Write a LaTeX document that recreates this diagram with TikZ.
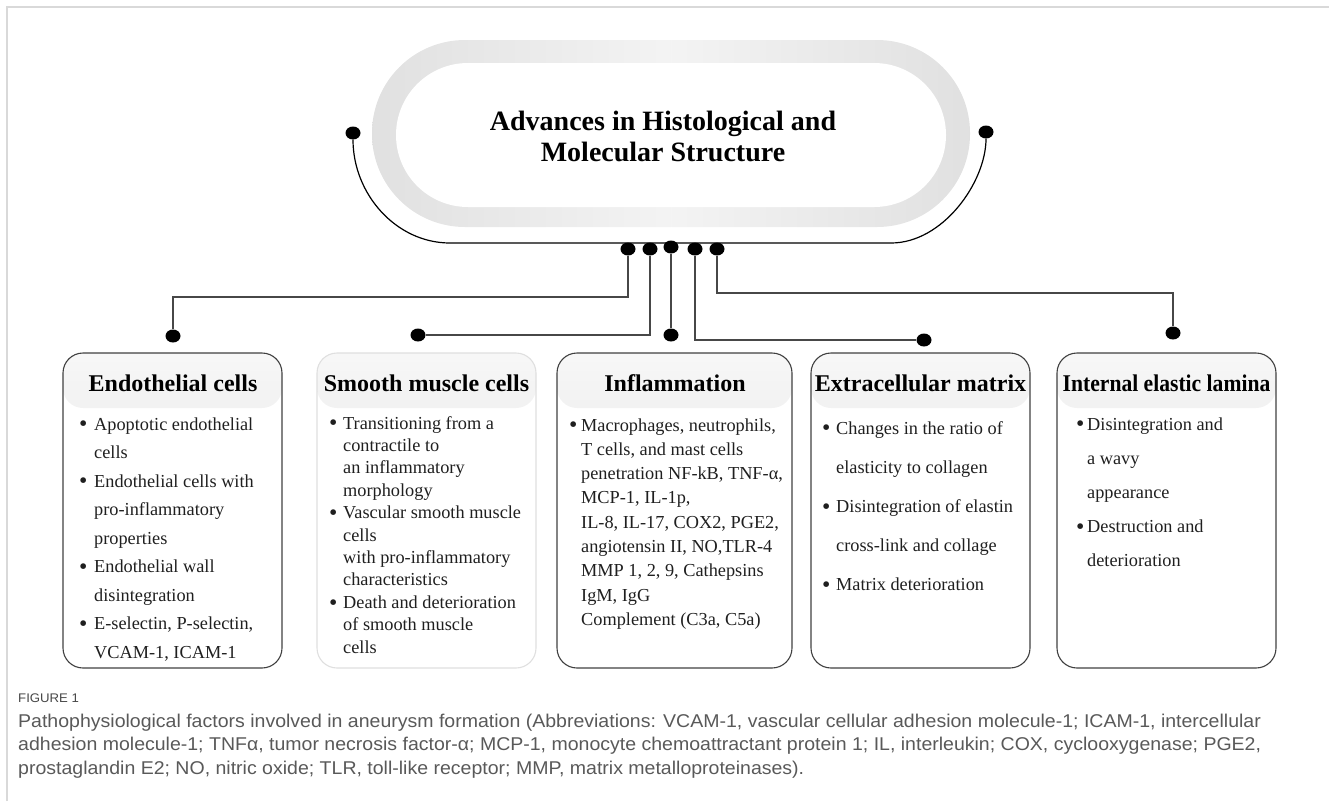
\documentclass[tikz,border=0pt]{standalone}
\usepackage{fontspec}
\setmainfont{Liberation Serif}
\newfontfamily\capfont[FakeStretch=1.055]{Liberation Sans}
\usetikzlibrary{shapes.geometric}
\newlength\bw
\newcommand\bitem{\makebox[\bw][l]{\raisebox{-1.9pt}{\scalebox{1.3}{\textbullet}}}}
\newcommand\bcont{\hspace*{\bw}}
\begin{document}
\begin{tikzpicture}[x=1pt,y=-1pt,
  framel/.style={draw=gray!30, line width=1.6pt},
  dotn/.style={ellipse, fill=black, inner sep=0pt, minimum width=15pt, minimum height=13pt},
  conn/.style={draw=black!72, line width=1.3pt},
  arcline/.style={draw=black, line width=1.2pt},
  boxn/.style={draw=black!75, line width=1.1pt, rounded corners=20pt, minimum height=315pt, inner sep=0pt,
    path picture={\shade[top color=gray!6, bottom color=gray!32] (path picture bounding box.north west) rectangle ([yshift=-55pt]path picture bounding box.north east);}},
  head/.style={anchor=base, inner sep=0pt, font=\fontsize{24}{28}\selectfont\bfseries},
  body/.style={anchor=base west, inner sep=0pt, text=black!88},
]
\useasboundingbox (0,0) rectangle (1329,801);
% frame
\draw[framel] (7,801) -- (7,7) -- (1329,7);

% hub
\node[minimum width=598pt, minimum height=187pt, rounded corners=93pt, inner sep=0pt,
  left color=gray!24, right color=gray!24, middle color=gray!9] (hub) at (671,133.5) {};
\node[fill=white, minimum width=550pt, minimum height=144pt, rounded corners=72pt, inner sep=0pt] (hubin) at (671,135) {};
\node[anchor=base, inner sep=0pt, font=\fontsize{28}{31}\selectfont\bfseries] (title) at (663,130)
  {\begin{tabular}[t]{@{}c@{}}Advances in Histological and\\Molecular Structure\end{tabular}};

% side dots and arc
\node[dotn] (L) at (353,133) {};
\node[dotn] (R) at (986,132) {};
\draw[arcline] (L) .. controls (353,194) and (396,243) .. (450,243) -- (891,243) .. controls (943,243) and (986,182) .. (R);

% hub dots
\node[dotn] (d1) at (628,249) {};
\node[dotn] (d2) at (650,249) {};
\node[dotn] (d3) at (671,247) {};
\node[dotn] (d4) at (695,249) {};
\node[dotn] (d5) at (717,249) {};

% box dots
\node[dotn] (e1) at (173,336) {};
\node[dotn] (e2) at (418,335) {};
\node[dotn] (e3) at (671,335) {};
\node[dotn] (e4) at (924,340) {};
\node[dotn] (e5) at (1173,333) {};

\draw[conn] (d1) -- ++(0,48) -| (e1);
\draw[conn] (d2) |- (e2);
\draw[conn] (d3) -- (e3);
\draw[conn] (d4) |- (e4);
\draw[conn] (d5) -- ++(0,44) -| (e5);

% boxes
\node[boxn, minimum width=219pt] (b1) at (172.5,510.5) {};
\node[boxn, minimum width=219pt, draw=gray!25] (b2) at (426.5,510.5) {};
\node[boxn, minimum width=235pt] (b3) at (674.5,510.5) {};
\node[boxn, minimum width=219pt] (b4) at (920.5,510.5) {};
\node[boxn, minimum width=219pt] (b5) at (1166.5,510.5) {};

\node[head] (h1) at (173,391) {Endothelial cells};
\node[head] (h2) at (426.5,391) {Smooth muscle cells};
\node[head] (h3) at (675,391) {Inflammation};
\node[head] (h4) at (920.5,391) {Extracellular matrix};
\node[head] (h5) at (1166.5,391) {\scalebox{0.9}[1]{Internal elastic lamina}};

\node[body, font=\fontsize{18.3}{28.5}\selectfont] (t1) at (79,430) {\setlength\bw{15pt}%
\begin{tabular}[t]{@{}l@{}}
\bitem Apoptotic endothelial\\
\bcont cells\\
\bitem Endothelial cells with\\
\bcont pro-inflammatory\\
\bcont properties\\
\bitem Endothelial wall\\
\bcont disintegration\\
\bitem E-selectin, P-selectin,\\
\bcont VCAM-1, ICAM-1
\end{tabular}};

\node[body, font=\fontsize{18.3}{22.4}\selectfont] (t2) at (329,429) {\setlength\bw{14pt}%
\begin{tabular}[t]{@{}l@{}}
\bitem Transitioning from a\\
\bcont contractile to\\
\bcont an inflammatory\\
\bcont morphology\\
\bitem Vascular smooth muscle\\
\bcont cells\\
\bcont with pro-inflammatory\\
\bcont characteristics\\
\bitem Death and deterioration\\
\bcont of smooth muscle\\
\bcont cells
\end{tabular}};

\node[body, font=\fontsize{18.3}{24.3}\selectfont] (t3) at (569,431) {\setlength\bw{12pt}%
\begin{tabular}[t]{@{}l@{}}
\bitem Macrophages, neutrophils,\\
\bcont T cells, and mast cells\\
\bcont penetration NF-kB, TNF-α,\\
\bcont MCP-1, IL-1p,\\
\bcont IL-8, IL-17, COX2, PGE2,\\
\bcont angiotensin II, NO,TLR-4\\
\bcont MMP 1, 2, 9, Cathepsins\\
\bcont IgM, IgG\\
\bcont Complement (C3a, C5a)
\end{tabular}};

\node[body, font=\fontsize{18.3}{39.2}\selectfont] (t4) at (822,434) {\setlength\bw{14pt}%
\begin{tabular}[t]{@{}l@{}}
\bitem Changes in the ratio of\\
\bcont elasticity to collagen\\
\bitem Disintegration of elastin\\
\bcont cross-link and collage\\
\bitem Matrix deterioration
\end{tabular}};

\node[body, font=\fontsize{18.3}{34.2}\selectfont] (t5) at (1076,430) {\setlength\bw{11pt}%
\begin{tabular}[t]{@{}l@{}}
\bitem Disintegration and\\
\bcont a wavy\\
\bcont appearance\\
\bitem Destruction and\\
\bcont deterioration
\end{tabular}};

% caption
\node[anchor=base west, inner sep=0pt, text=black!72, font=\capfont\fontsize{12.5}{14}\selectfont] (fig) at (18,702) {FIGURE 1};
\node[anchor=base west, inner sep=0pt, text=black!65, font=\capfont\fontsize{18.5}{23.5}\selectfont] (cap) at (18,727)
 {\begin{tabular}[t]{@{}l@{}}
 Pathophysiological factors involved in aneurysm formation (Abbreviations: VCAM-1, vascular cellular adhesion molecule-1; ICAM-1, intercellular\\
 adhesion molecule-1; TNFα, tumor necrosis factor-α; MCP-1, monocyte chemoattractant protein 1; IL, interleukin; COX, cyclooxygenase; PGE2,\\
 prostaglandin E2; NO, nitric oxide; TLR, toll-like receptor; MMP, matrix metalloproteinases).
 \end{tabular}};
\end{tikzpicture}
\end{document}
